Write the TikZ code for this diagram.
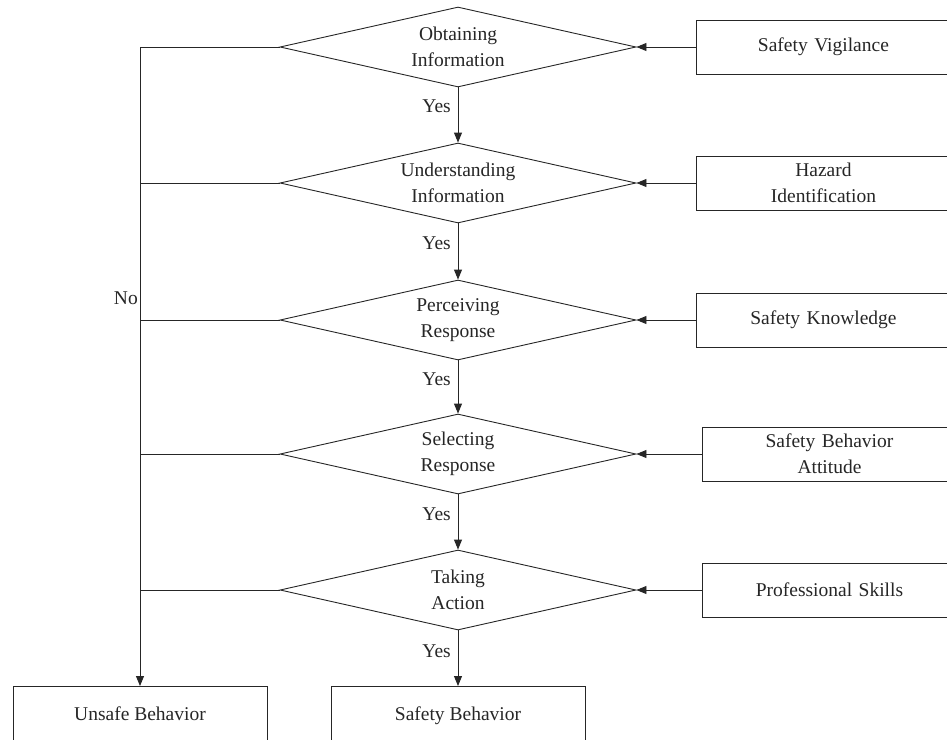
\documentclass[tikz,border=0pt]{standalone}
\usepackage{fontspec}
\setmainfont{Liberation Serif}
\usetikzlibrary{shapes.geometric,arrows.meta}
\begin{document}
\begin{tikzpicture}[x=1pt,y=-1pt,
  every node/.style={font=\fontsize{19.5}{26}\selectfont, text=black!85},
  line/.style={draw=black!85, line width=0.9pt},
  arr/.style={line, -{Triangle[length=10pt,width=8pt]}},
  dia/.style={shape=diamond, draw=black!85, line width=0.9pt, minimum width=356pt, minimum height=80pt, inner sep=0pt, aspect=4.45, align=center},
  rbox/.style={draw=black!85, line width=0.9pt, minimum height=54pt, anchor=west, align=center, text width=254pt, inner sep=0pt},
  bbox/.style={draw=black!85, line width=0.9pt, minimum width=254pt, minimum height=60pt, anchor=north, inner sep=0pt},
  yes/.style={anchor=east, inner sep=0pt}
]
\useasboundingbox (0,0) rectangle (947,739);
\node[dia] (d1) at (458,47) {Obtaining\\Information};
\node[dia] (d2) at (458,183) {Understanding\\Information};
\node[dia] (d3) at (458,320) {Perceiving\\Response};
\node[dia] (d4) at (458,454) {Selecting\\Response};
\node[dia] (d5) at (458,590) {Taking\\Action};

\node[rbox] (b1) at (696,47) {Safety Vigilance};
\node[rbox] (b2) at (696,183) {Hazard\\Identification};
\node[rbox] (b3) at (696,320) {Safety Knowledge};
\node[rbox] (b4) at (702,454) {Safety Behavior\\Attitude};
\node[rbox] (b5) at (702,590) {Professional Skills};

\node[bbox] (unsafe) at (140,686) {\raisebox{6pt}{Unsafe Behavior}};
\node[bbox] (safe) at (458,686) {\raisebox{6pt}{Safety Behavior}};

\coordinate (L1) at (140,47);
\coordinate (L2) at (140,183);
\coordinate (L3) at (140,320);
\coordinate (L4) at (140,454);
\coordinate (L5) at (140,590);

\foreach \i in {1,...,5} {
  \draw[arr] (b\i.west) -- (d\i.east);
}
\foreach \i in {2,...,5} {
  \draw[line] (d\i.west) -- (L\i);
}
\draw[arr] (d1.west) -- (L1) -- (unsafe.north);
\draw[arr] (d1.south) -- (d2.north);
\draw[arr] (d2.south) -- (d3.north);
\draw[arr] (d3.south) -- (d4.north);
\draw[arr] (d4.south) -- (d5.north);
\draw[arr] (d5.south) -- (safe.north);

\node[yes] (y1) at (451,106) {Yes};
\node[yes] (y2) at (451,243) {Yes};
\node[yes] (y3) at (451,379) {Yes};
\node[yes] (y4) at (451,514) {Yes};
\node[yes] (y5) at (451,651) {Yes};
\node[anchor=east, inner sep=0pt] (no) at (138,298) {No};
\end{tikzpicture}
\end{document}
